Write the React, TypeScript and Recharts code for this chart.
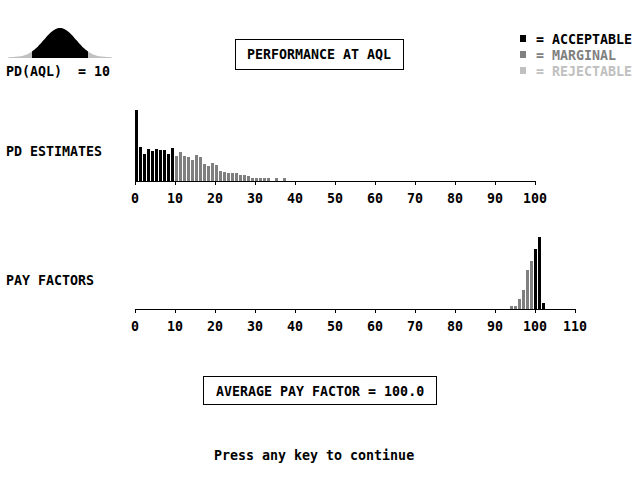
import React from "react";
import { AreaChart, Area, BarChart, Bar, XAxis, YAxis } from "recharts";

// bell curve at the top left (heights, 2px steps)
const bellHeights = [
  0.5, 0.7, 0.9, 1.1, 1.3, 1.5, 1.8, 2.1, 2.6, 3.2, 4.1, 5.2, 6.5, 8.0, 9.7, 11.6, 13.7, 16.0, 18.2, 20.6,
  22.8, 24.7, 26.5, 27.9, 29.1, 29.8, 30.0, 29.8, 29.1, 27.9, 26.5, 24.7, 22.8, 20.6, 18.2, 16.0, 13.7, 11.6,
  9.7, 8.0, 6.5, 5.2, 4.1, 3.2, 2.6, 2.1, 1.8, 1.5, 1.3, 1.1, 0.9, 0.7, 0.5,
];
const bellCoreStart = 12;
const bellCoreEnd = 40;

// PD estimates histogram
const pdBins = [0, 1, 2, 3, 4, 5, 6, 7, 8, 9, 10, 11, 12, 13, 14, 15, 16, 17, 18, 19, 20, 21, 22, 23, 24, 25, 26, 27, 28, 29, 30, 31, 32, 33, 35, 37];
const pdCounts = [71, 34, 27, 32, 30, 32, 31, 31, 27, 33, 25, 29, 25, 24, 21, 26, 24, 17, 15, 18, 16, 10, 9, 8, 8, 8, 6, 6, 5, 3, 3, 3, 3, 3, 3, 3];
const pdTicks = [0, 10, 20, 30, 40, 50, 60, 70, 80, 90, 100];
const pdLimit = 10;

// pay factors histogram
const payBins = [94, 95, 96, 97, 98, 99, 100, 101, 102];
const payCounts = [3.3, 3.3, 10.3, 19.3, 39.3, 48.3, 60.3, 72, 6.3];
const payTicks = [0, 10, 20, 30, 40, 50, 60, 70, 80, 90, 100, 110];
const payLimit = 100;

const legendLabels = ["ACCEPTABLE", "MARGINAL", "REJECTABLE"];
const legendColors = ["#000000", "#808080", "#c0c0c0"];

const FONT = "'DejaVu Sans Mono', monospace";
const tickStyle = { fill: "#000", fontSize: 13.3, fontFamily: FONT, fontWeight: "bold" };

const bellData = bellHeights.map((h, i) => ({
  i,
  all: h,
  core: i >= bellCoreStart && i <= bellCoreEnd ? h : null,
}));
const pdData = pdBins.map((b, i) => ({ x: b + 0.5, pd: b, n: pdCounts[i] }));
const payData = payBins.map((b, i) => ({ x: b, pay: b, n: payCounts[i] }));

function PdBar(p: any) {
  const fill = p.payload.pd < pdLimit ? "#000" : "#808080";
  return <rect x={Math.ceil(p.x)} y={p.y} width={3} height={p.height} fill={fill} />;
}

function PayBar(p: any) {
  const fill = p.payload.pay < payLimit ? "#808080" : "#000";
  return <rect x={Math.ceil(p.x)} y={p.y} width={3} height={p.height} fill={fill} />;
}

export default function App() {
  return (
    <div
      style={{
        position: "absolute",
        left: 0,
        top: 0,
        width: 640,
        height: 480,
        background: "#fff",
        fontFamily: FONT,
        fontWeight: "bold",
      }}
    >
      <div style={{ position: "absolute", left: 8, top: 28 }}>
        <AreaChart width={104} height={30} data={bellData} margin={{ top: 0, right: 0, bottom: 0, left: 0 }}>
          <XAxis dataKey="i" type="number" domain={[0, 52]} hide />
          <YAxis domain={[0, 30]} hide />
          <Area type="monotone" dataKey="all" stroke="none" fill="#c0c0c0" fillOpacity={1} isAnimationActive={false} />
          <Area type="monotone" dataKey="core" stroke="none" fill="#000" fillOpacity={1} isAnimationActive={false} />
        </AreaChart>
      </div>

      <div style={{ position: "absolute", left: 0, top: 0, shapeRendering: "crispEdges" }}>
        <BarChart width={640} height={240} data={pdData} margin={{ top: 110, right: 105, bottom: 29, left: 135 }}>
          <XAxis
            dataKey="x"
            type="number"
            domain={[0, 100]}
            ticks={pdTicks}
            interval={0}
            height={30}
            tickSize={4}
            tickMargin={9}
            stroke="#000"
            tick={tickStyle}
          />
          <YAxis domain={[0, 71]} hide />
          <Bar dataKey="n" barSize={3} shape={PdBar} isAnimationActive={false} />
        </BarChart>
      </div>

      <div style={{ position: "absolute", left: 0, top: 0, shapeRendering: "crispEdges" }}>
        <BarChart width={640} height={360} data={payData} margin={{ top: 237, right: 65, bottom: 21, left: 135 }}>
          <XAxis
            dataKey="x"
            type="number"
            domain={[0, 110]}
            ticks={payTicks}
            interval={0}
            height={30}
            tickSize={4}
            tickMargin={9}
            stroke="#000"
            tick={tickStyle}
          />
          <YAxis domain={[0, 72]} hide />
          <Bar dataKey="n" barSize={3} shape={PayBar} isAnimationActive={false} />
        </BarChart>
      </div>

      <svg
        width={640}
        height={480}
        style={{ position: "absolute", left: 0, top: 0, pointerEvents: "none" }}
        fontFamily={FONT}
        fontWeight="bold"
        fontSize={13.3}
      >
        <text x={6} y={75.5} fill="#000" style={{ whiteSpace: "pre" }}>
          PD(AQL)  = 10
        </text>
        <rect x={235.5} y={39.5} width={168} height={30} fill="none" stroke="#000" shapeRendering="crispEdges" />
        <text x={247} y={59} fill="#000">
          PERFORMANCE AT AQL
        </text>
        {legendLabels.map((label, i) => (
          <g key={label}>
            <rect x={520} y={35 + i * 16} width={6} height={7} fill={legendColors[i]} shapeRendering="crispEdges" />
            <text x={536} y={43.5 + i * 16} fill={legendColors[i]}>
              {"= " + label}
            </text>
          </g>
        ))}
        <text x={6} y={156} fill="#000">
          PD ESTIMATES
        </text>
        <text x={6} y={284.5} fill="#000">
          PAY FACTORS
        </text>
        <rect x={203.5} y={376.5} width={233} height={28} fill="none" stroke="#000" shapeRendering="crispEdges" />
        <text x={216} y={396} fill="#000">
          AVERAGE PAY FACTOR = 100.0
        </text>
        <text x={214} y={460} fill="#000">
          Press any key to continue
        </text>
      </svg>
    </div>
  );
}
